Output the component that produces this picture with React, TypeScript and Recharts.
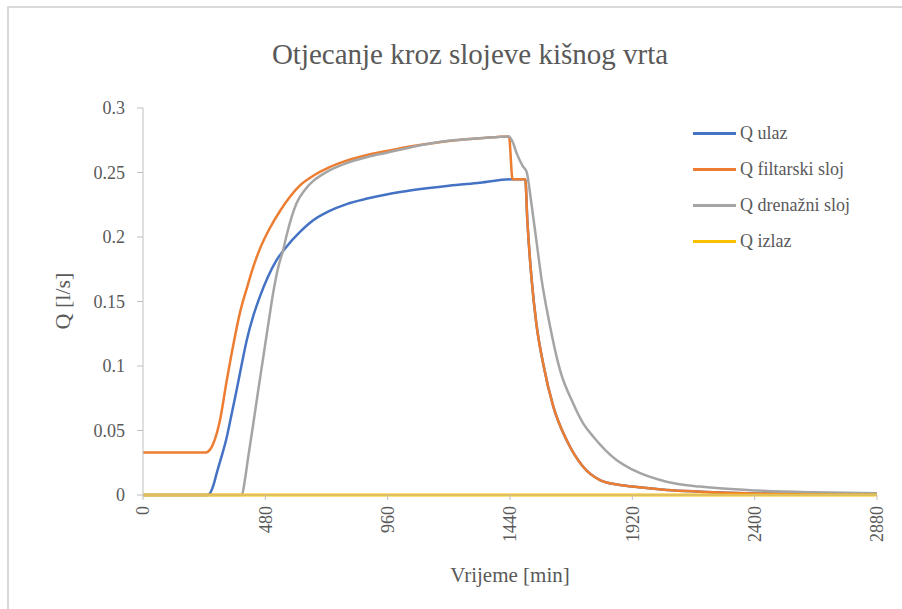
import { Label, Line, LineChart, XAxis, YAxis } from "recharts";

const timeTicks = [0, 480, 960, 1440, 1920, 2400, 2880];
const flowTicks = [0, 0.05, 0.1, 0.15, 0.2, 0.25, 0.3];

// Q ulaz
const ulazTime = [0, 255, 265, 277, 289, 307, 326, 346, 367, 387, 407, 433, 459, 490, 524, 563, 616, 668, 730, 799, 880, 960, 1060, 1200, 1322, 1446, 1500, 1508, 1525, 1544, 1570, 1610, 1662, 1727, 1793, 1871, 1920, 2055, 2185, 2400, 2600, 2880];
const ulazQ = [0, 0, 0.002, 0.008, 0.0168, 0.029, 0.0426, 0.061, 0.081, 0.101, 0.12, 0.139, 0.154, 0.169, 0.182, 0.1925, 0.204, 0.213, 0.22, 0.2255, 0.2298, 0.2332, 0.2364, 0.2398, 0.2421, 0.2447, 0.2447, 0.213, 0.1667, 0.132, 0.102, 0.0685, 0.0426, 0.0219, 0.0116, 0.0078, 0.0065, 0.0039, 0.0026, 0.0012, 0.0007, 0.0004];

// Q filtarski sloj
const filterTime = [0, 248, 262, 276, 302, 328, 354, 380, 407, 433, 459, 498, 537, 576, 616, 668, 730, 799, 880, 960, 1060, 1200, 1322, 1436, 1450, 1500, 1508, 1525, 1544, 1570, 1610, 1662, 1727, 1793, 1871, 1920, 2055, 2185, 2400, 2600, 2880];
const filterQ = [0.033, 0.033, 0.035, 0.04, 0.058, 0.088, 0.116, 0.141, 0.16, 0.177, 0.191, 0.207, 0.22, 0.231, 0.24, 0.2475, 0.254, 0.2592, 0.2636, 0.2668, 0.2705, 0.2745, 0.2765, 0.278, 0.2447, 0.2447, 0.213, 0.1667, 0.132, 0.102, 0.0685, 0.0426, 0.0219, 0.0116, 0.0078, 0.0065, 0.0039, 0.0026, 0.0012, 0.0007, 0.0004];

// Q drenažni sloj
const drenazniTime = [0, 388, 400, 413, 433, 452, 472, 492, 511, 530, 550, 563, 602, 635, 668, 700, 730, 799, 880, 960, 1060, 1190, 1322, 1436, 1452, 1466, 1490, 1505, 1524, 1545, 1564, 1594, 1636, 1688, 1727, 1767, 1858, 1923, 2054, 2185, 2368, 2630, 2880];
const drenazniQ = [0, 0, 0.012, 0.0297, 0.0556, 0.081, 0.107, 0.133, 0.157, 0.176, 0.19, 0.201, 0.226, 0.2365, 0.2435, 0.248, 0.2515, 0.2573, 0.262, 0.2655, 0.27, 0.2745, 0.2765, 0.278, 0.273, 0.265, 0.255, 0.2506, 0.226, 0.195, 0.167, 0.134, 0.097, 0.071, 0.0556, 0.0452, 0.0271, 0.0194, 0.0103, 0.0065, 0.0039, 0.0021, 0.0013];

// Q izlaz
const izlazTime = [0, 2880];
const izlazQ = [0, 0];

const toPoints = (time: number[], q: number[]) =>
  time.map((t, i) => ({ t, q: q[i] }));

const series = [
  { name: "Q ulaz", color: "#4472C4", data: toPoints(ulazTime, ulazQ) },
  { name: "Q filtarski sloj", color: "#ED7D31", data: toPoints(filterTime, filterQ) },
  { name: "Q drenažni sloj", color: "#A5A5A5", data: toPoints(drenazniTime, drenazniQ) },
  { name: "Q izlaz", color: "#FFC000", data: toPoints(izlazTime, izlazQ) }
];

const font = "'Liberation Serif', serif";
const textColor = "#595959";

function RotatedTick(props: any) {
  const { x, y, payload } = props;
  return (
    <text
      x={x}
      y={y}
      transform={`rotate(-90 ${x} ${y})`}
      textAnchor="end"
      dy="0.35em"
      fill={textColor}
      fontFamily={font}
      fontSize={18}
    >
      {payload.value}
    </text>
  );
}

function LegendList() {
  return (
    <div
      style={{
        position: "absolute",
        left: 693,
        top: 115,
        fontFamily: font,
        fontSize: 18,
        color: textColor
      }}
    >
      {series.map((s) => (
        <div
          key={s.name}
          style={{ display: "flex", alignItems: "center", height: 36 }}
        >
          <span
            style={{
              display: "inline-block",
              width: 43,
              height: 3,
              background: s.color,
              marginRight: 4
            }}
          />
          <span>{s.name}</span>
        </div>
      ))}
    </div>
  );
}

export default function App() {
  return (
    <div
      style={{
        position: "absolute",
        left: 0,
        top: 0,
        width: 902,
        height: 609,
        background: "#fff",
        overflow: "hidden"
      }}
    >
      <div
        style={{
          position: "absolute",
          left: 7,
          top: 6,
          width: 902,
          height: 609,
          borderTop: "2px solid #d9d9d9",
          borderLeft: "2px solid #d9d9d9"
        }}
      />
      <div
        style={{
          position: "absolute",
          left: 0,
          width: 940,
          top: 36,
          textAlign: "center",
          fontFamily: font,
          fontSize: 29,
          color: textColor,
          lineHeight: "36px"
        }}
      >
        Otjecanje kroz slojeve kišnog vrta
      </div>
      <LineChart
        width={902}
        height={609}
        margin={{ top: 108, right: 25, bottom: 0, left: 0 }}
      >
        <XAxis
          dataKey="t"
          type="number"
          domain={[0, 2880]}
          ticks={timeTicks}
          height={114}
          tick={<RotatedTick />}
          tickSize={5}
          tickMargin={6}
          stroke="#bfbfbf"
          allowDuplicatedCategory={false}
        >
          <Label
            content={() => (
              <text
                x={510}
                y={582}
                textAnchor="middle"
                fill={textColor}
                fontFamily={font}
                fontSize={21}
              >
                Vrijeme [min]
              </text>
            )}
          />
        </XAxis>
        <YAxis
          type="number"
          domain={[0, 0.3]}
          ticks={flowTicks}
          width={143}
          tickSize={6}
          tickMargin={12}
          stroke="#bfbfbf"
          tick={{ fill: textColor, fontFamily: font, fontSize: 18 }}
        >
          <Label
            content={() => (
              <text
                x={62}
                y={301}
                transform="rotate(-90 62 301)"
                textAnchor="middle"
                dy="0.35em"
                fill={textColor}
                fontFamily={font}
                fontSize={22}
              >
                Q [l/s]
              </text>
            )}
          />
        </YAxis>
        {series.map((s) => (
          <Line
            key={s.name}
            data={s.data}
            dataKey="q"
            name={s.name}
            type="monotone"
            stroke={s.color}
            strokeWidth={s.name === "Q izlaz" ? 3 : 2.5}
            dot={false}
            activeDot={false}
            isAnimationActive={false}
          />
        ))}
      </LineChart>
      <LegendList />
    </div>
  );
}
